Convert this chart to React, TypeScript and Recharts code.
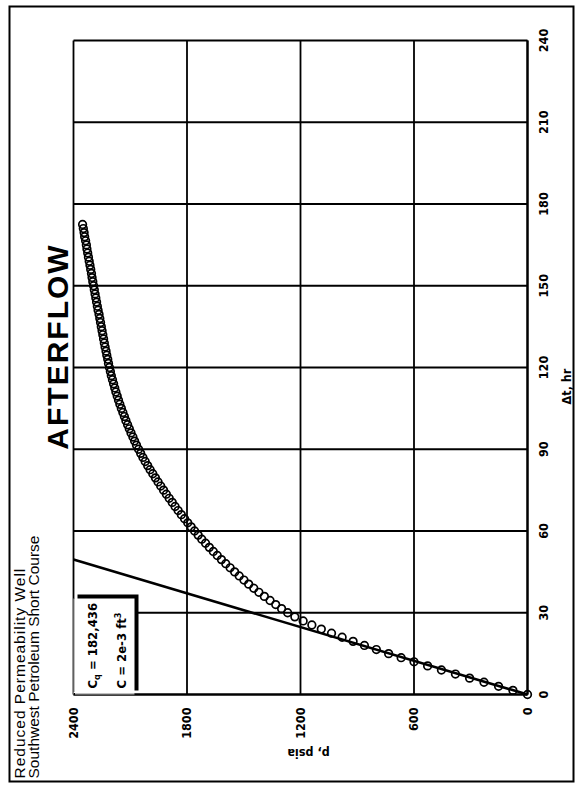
import React from 'react';
import {
  ComposedChart,
  Scatter,
  XAxis,
  YAxis,
  CartesianGrid,
  ReferenceLine,
  Label,
} from 'recharts';

// shut-in time, hr
const afterflowTime = [
  0, 1.5, 3, 4.5, 6, 7.5, 9, 10.5, 12, 13.5, 15, 16.5, 18, 19.5, 21, 22.5, 24,
  25.5, 27, 28.5, 30, 31.5, 33, 34.5, 36, 37.5, 39, 40.5, 42, 43.5, 45, 46.5,
  48, 49.5, 51, 52.5, 54, 55.5, 57, 58.5, 60, 61.5, 63, 64.5, 66, 67.5, 69,
  70.5, 72, 73.5, 75, 76.5, 78, 79.5, 81, 82.5, 84, 85.5, 87, 88.5, 90, 91.5,
  93, 94.5, 96, 97.5, 99, 100.5, 102, 103.5, 105, 106.5, 108, 109.5, 111,
  112.5, 114, 115.5, 117, 118.5, 120, 121.5, 123, 124.5, 126, 127.5, 129,
  130.5, 132, 133.5, 135, 136.5, 138, 139.5, 141, 142.5, 144, 145.5, 147,
  148.5, 150, 151.5, 153, 154.5, 156, 157.5, 159, 160.5, 162, 163.5, 165,
  166.5, 168, 169.5, 171, 172.5,
];

// bottomhole pressure, psia
const afterflowPressure = [
  0, 77, 153, 230, 306, 381, 455, 528, 600, 668, 734, 799, 862, 922, 980, 1036,
  1090, 1140, 1186, 1230, 1268, 1300, 1331, 1361, 1391, 1420, 1447, 1474, 1499,
  1524, 1548, 1572, 1595, 1618, 1640, 1661, 1682, 1702, 1722, 1741, 1760, 1778,
  1796, 1813, 1830, 1847, 1863, 1878, 1894, 1909, 1924, 1939, 1953, 1967, 1981,
  1995, 2008, 2021, 2033, 2045, 2056, 2067, 2077, 2086, 2096, 2105, 2114, 2123,
  2131, 2139, 2147, 2155, 2162, 2169, 2176, 2182, 2188, 2194, 2200, 2205, 2210,
  2215, 2219, 2224, 2228, 2233, 2237, 2241, 2245, 2249, 2253, 2257, 2261, 2265,
  2270, 2274, 2278, 2282, 2286, 2290, 2294, 2298, 2302, 2305, 2309, 2313, 2317,
  2321, 2325, 2329, 2332, 2336, 2341, 2344, 2348, 2352,
];

// unit-slope (wellbore storage) line end points
const storageLineTime = [0, 49.5];
const storageLinePressure = [0, 2400];

const timeTicks = [0, 30, 60, 90, 120, 150, 180, 210, 240];
const pressureTicks = [0, 600, 1200, 1800, 2400];

const points = afterflowTime.map((t, i) => ({ t, p: afterflowPressure[i] }));

// chart is laid out landscape, then turned a quarter turn
const W = 777;
const H = 566;

const narrow = "'Liberation Sans Narrow', 'DejaVu Sans Condensed', sans-serif";
const plain = "'Liberation Sans', Arial, sans-serif";

const tickStyle = {
  fontFamily: narrow,
  fontSize: 12.5,
  fontWeight: 700,
  fill: '#000',
};

const Ring = (props: any) => (
  <circle
    cx={props.cx}
    cy={props.cy}
    r={3.8}
    fill="none"
    stroke="#000"
    strokeWidth={1.7}
  />
);

export default function App() {
  return (
    <div
      style={{
        position: 'absolute',
        left: 0,
        top: 0,
        width: 577,
        height: 787,
        background: '#fff',
        overflow: 'hidden',
      }}
    >
      <div
        style={{
          position: 'absolute',
          width: W,
          height: H,
          left: 291 - W / 2,
          top: 393.5 - H / 2,
          transform: 'rotate(-90deg)',
          background: '#fff',
        }}
      >
        <ComposedChart
          width={W}
          height={H}
          data={points}
          margin={{ top: 65, right: 35, bottom: 17, left: 28 }}
        >
          <CartesianGrid stroke="#000" strokeWidth={1.8} />
          <XAxis
            type="number"
            dataKey="t"
            domain={[0, 240]}
            ticks={timeTicks}
            height={30}
            axisLine={{ stroke: '#000', strokeWidth: 2.2 }}
            tickLine={false}
            tickSize={0}
            tickMargin={12}
            tick={tickStyle}
          >
            <Label
              content={(props: any) => {
                const vb = props.viewBox;
                return (
                  <text
                    x={vb.x + vb.width / 2 - 19}
                    y={vb.y + 43}
                    textAnchor="middle"
                    style={tickStyle}
                  >
                    Δt, hr
                  </text>
                );
              }}
            />
          </XAxis>
          <YAxis
            type="number"
            dataKey="p"
            domain={[0, 2400]}
            ticks={pressureTicks}
            width={60}
            axisLine={{ stroke: '#000', strokeWidth: 2.2 }}
            tickLine={false}
            tickSize={0}
            tickMargin={13}
            tick={tickStyle}
          >
            <Label
              content={(props: any) => {
                const vb = props.viewBox;
                const x = vb.x + 6;
                const y = vb.y + vb.height / 2 + 8;
                return (
                  <text
                    x={x}
                    y={y}
                    textAnchor="middle"
                    transform={`rotate(-90, ${x}, ${y})`}
                    style={tickStyle}
                  >
                    p, psia
                  </text>
                );
              }}
            />
          </YAxis>
          <ReferenceLine
            segment={[
              { x: storageLineTime[0], y: storageLinePressure[0] },
              { x: storageLineTime[1], y: storageLinePressure[1] },
            ]}
            stroke="#000"
            strokeWidth={2.6}
          />
          <Scatter
            dataKey="p"
            fill="none"
            shape={<Ring />}
            isAnimationActive={false}
          />
        </ComposedChart>

        {/* heading, top-left */}
        <div
          style={{
            position: 'absolute',
            left: 4,
            top: 4,
            fontFamily: plain,
            fontSize: 15.5,
            lineHeight: '13.5px',
            color: '#000',
            whiteSpace: 'nowrap',
          }}
        >
          <div style={{ letterSpacing: 1 }}>Reduced Permeability Well</div>
          <div>Southwest Petroleum Short Course</div>
        </div>

        {/* title */}
        <div
          style={{
            position: 'absolute',
            left: 436,
            top: 49,
            transform: 'translate(-50%, -50%)',
            fontFamily: plain,
            fontWeight: 700,
            fontSize: 30,
            letterSpacing: 2,
            lineHeight: '30px',
            color: '#000',
            whiteSpace: 'nowrap',
          }}
        >
          AFTERFLOW
        </div>

        {/* storage coefficient box */}
        <div
          style={{
            position: 'absolute',
            left: 88,
            top: 65,
            width: 96,
            height: 61,
            background: '#fff',
            borderLeft: '1px dotted #000',
            borderTop: '1px dotted #000',
            boxShadow: '4px 4px 0 #000',
            fontFamily: narrow,
            fontWeight: 700,
            fontSize: 13,
            lineHeight: '20px',
            color: '#000',
            paddingTop: 8,
            paddingLeft: 5,
            boxSizing: 'border-box',
            whiteSpace: 'nowrap',
          }}
        >
          <div>
            C<sub style={{ fontSize: 9 }}>q</sub> = 182,436
          </div>
          <div>
            C = 2e-3 ft<sup style={{ fontSize: 9 }}>3</sup>
          </div>
        </div>

        {/* outer frame */}
        <div
          style={{
            position: 'absolute',
            inset: 0,
            border: '2px solid #000',
            pointerEvents: 'none',
          }}
        />
      </div>
    </div>
  );
}
